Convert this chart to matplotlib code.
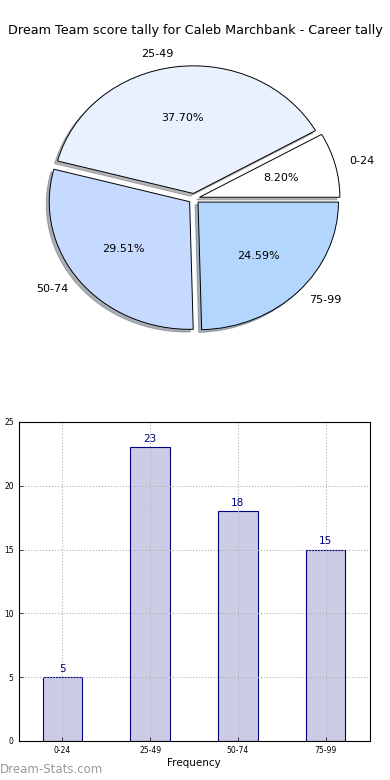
import numpy as np
import matplotlib
matplotlib.use("Agg")
import matplotlib.pyplot as plt

# score bands and how many games fell in each
bands = ["0-24", "25-49", "50-74", "75-99"]
counts = [5, 23, 18, 15]
pie_colours = ["#ffffff", "#eaf1fe", "#c6d9fe", "#b3d6fe"]

player = "Caleb Marchbank"
title = "Dream Team score tally for " + player + " - Career tally"

plt.rcParams['font.family'] = ['DejaVu Sans']

fig = plt.figure(figsize=(3.9, 7.8), dpi=100)
fig.subplots_adjust(left=0.0475, right=0.9475, bottom=0.05, top=0.95, hspace=0.2)

# pie on top
ax1 = fig.add_subplot(2, 1, 1)
wedges, texts, autotexts = ax1.pie(counts, labels=bands, colors=pie_colours,
	explode=[0.04] * len(counts),
	shadow={'ox': -0.015, 'oy': -0.015, 'shade': 0.55},
	autopct="%1.2f%%",
	wedgeprops={'edgecolor': 'black', 'linewidth': 0.7},
	textprops={'fontsize': 8})
ax1.set_aspect('auto')
ax1.set_xlim(-1.25, 1.25)
ax1.set_ylim(-1.25, 1.25)
fig.text(0.5, 0.9615, title, ha='center', va='center', fontsize=9.2)

# bars below
ax2 = fig.add_subplot(2, 1, 2)
x = np.arange(len(bands))
ax2.bar(x, counts, width=0.45, color=(0, 0, 0.5, 0.2), edgecolor='navy', linewidth=0.8)
for i in range(len(counts)):
	ax2.text(x[i], counts[i] + 0.25, str(counts[i]), ha='center', va='bottom',
		fontsize=7.5, color='navy')

ax2.set_xlim(-0.5, len(bands) - 0.5)
ax2.set_ylim(0, 25)
ax2.set_xticks(x)
ax2.set_xticklabels(bands)
ax2.set_yticks([0, 5, 10, 15, 20, 25])
ax2.tick_params(direction='in', labelsize=5.5, length=3, width=0.5)
ax2.grid(True, color='#b0b0b0', linestyle=':', linewidth=0.8)
ax2.set_axisbelow(False)
for s in ax2.spines.values():
	s.set_zorder(3)
ax2.set_xlabel("Frequency", fontsize=7.5, labelpad=2)
ax2.set_ylabel("Score Tally", fontsize=7.5)
ax2.yaxis.set_label_coords(-0.062, 0.5)

fig.text(0.0, 0.013, "Dream-Stats.com", ha='left', va='center', fontsize=8.5, color='#999999')

fig.savefig("out.png", dpi=100)
plt.close()
